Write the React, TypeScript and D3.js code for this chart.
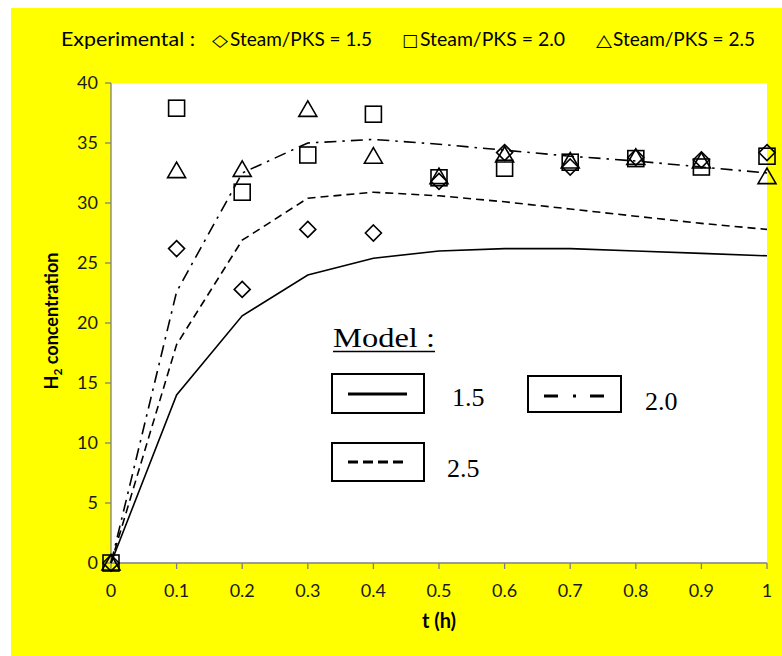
import React from "react";
import * as d3 from "d3";

const tValues = [0, 0.1, 0.2, 0.3, 0.4, 0.5, 0.6, 0.7, 0.8, 0.9, 1.0];
const model15 = [0, 14.0, 20.6, 24.0, 25.4, 26.0, 26.2, 26.2, 26.0, 25.8, 25.6];
const model20 = [0, 22.6, 32.5, 35.0, 35.3, 34.9, 34.4, 33.9, 33.5, 33.0, 32.5];
const model25 = [0, 18.2, 26.9, 30.4, 30.9, 30.6, 30.1, 29.5, 28.9, 28.3, 27.8];
const exp15 = [0, 26.2, 22.8, 27.8, 27.5, 31.8, 34.2, 33.0, 33.8, 33.6, 34.2];
const exp20 = [0, 37.9, 30.9, 34.0, 37.4, 32.1, 32.9, 33.4, 33.7, 33.0, 33.9];
const exp25 = [0, 32.7, 32.8, 37.8, 33.9, 32.2, 34.0, 33.5, 33.8, 33.5, 32.2];
const xTicks = [0, 0.1, 0.2, 0.3, 0.4, 0.5, 0.6, 0.7, 0.8, 0.9, 1];
const yTicks = [0, 5, 10, 15, 20, 25, 30, 35, 40];

const W = 782;
const H = 656;
const FONT = "Lato, 'Open Sans', sans-serif";
const SERIF = "'Liberation Serif', 'DejaVu Serif', serif";

export default function App() {
  const x = d3.scaleLinear().domain([0, 1]).range([111, 767]);
  const y = d3.scaleLinear().domain([0, 40]).range([563, 83]);
  const line = d3
    .line<number>()
    .x((_, i) => x(tValues[i]))
    .y((d) => y(d));

  const sq = (cx: number, cy: number, k: string) => (
    <rect key={k} x={cx - 8} y={cy - 8} width={16} height={16} fill="none" stroke="#000" strokeWidth={1.6} />
  );
  const tri = (cx: number, cy: number, k: string) => (
    <path key={k} d={`M${cx},${cy - 8.5}L${cx + 9},${cy + 7}L${cx - 9},${cy + 7}Z`} fill="none" stroke="#000" strokeWidth={1.6} />
  );
  const dia = (cx: number, cy: number, k: string) => (
    <path key={k} d={`M${cx},${cy - 8}L${cx + 8},${cy}L${cx},${cy + 8}L${cx - 8},${cy}Z`} fill="none" stroke="#000" strokeWidth={1.6} />
  );

  return (
    <svg width={W} height={H} style={{ position: "absolute", left: 0, top: 0 }}>
      <rect x={0} y={0} width={W} height={H} fill="#fff" />
      <rect x={11} y={8} width={W - 11} height={H - 8} fill="#ffff00" />
      <rect x={x(0)} y={y(40)} width={x(1) - x(0)} height={y(0) - y(40)} fill="#fff" />

      {/* top legend */}
      <g fontFamily={FONT} fontSize={20} fill="#000">
        <text x={61} y={46} textLength={134} lengthAdjust="spacingAndGlyphs">Experimental :</text>
        <text x={212} y={46} fontFamily="'DejaVu Sans'" fontSize={17} textLength={16} lengthAdjust="spacingAndGlyphs">◇</text>
        <text x={230} y={46} textLength={142} lengthAdjust="spacingAndGlyphs">Steam/PKS = 1.5</text>
        <text x={402} y={46} fontFamily="'DejaVu Sans'" fontSize={17} textLength={16} lengthAdjust="spacingAndGlyphs">□</text>
        <text x={420} y={46} textLength={145} lengthAdjust="spacingAndGlyphs">Steam/PKS = 2.0</text>
        <text x={596} y={46} fontFamily="'DejaVu Sans'" fontSize={17} textLength={16} lengthAdjust="spacingAndGlyphs">△</text>
        <text x={613} y={46} textLength={142} lengthAdjust="spacingAndGlyphs">Steam/PKS = 2.5</text>
      </g>

      {/* axes */}
      <g stroke="#7f7f7f" strokeWidth={1.3}>
        <line x1={x(0)} x2={x(0)} y1={y(40)} y2={y(0)} />
        <line x1={x(0)} x2={x(1)} y1={y(0)} y2={y(0)} />
        {yTicks.map((t) => (
          <line key={"yt" + t} x1={x(0) - 6} x2={x(0)} y1={y(t)} y2={y(t)} />
        ))}
        {xTicks.map((t) => (
          <line key={"xt" + t} x1={x(t)} x2={x(t)} y1={y(0)} y2={y(0) + 6} />
        ))}
      </g>
      <g fontFamily={FONT} fontSize={18} fill="#1a1a1a">
        {yTicks.map((t) => (
          <text key={"yl" + t} x={x(0) - 13} y={y(t)} dy="0.36em" textAnchor="end">{t}</text>
        ))}
        {xTicks.map((t) => (
          <text key={"xl" + t} x={x(t)} y={597} textAnchor="middle">{String(t)}</text>
        ))}
      </g>
      <text x={439} y={628} textAnchor="middle" fontFamily={FONT} fontWeight="bold" fontSize={20}>t (h)</text>
      <text transform="translate(58,321) rotate(-90)" textAnchor="middle" fontFamily={FONT} fontWeight="bold" fontSize={18}>
        H<tspan fontSize={12} dy={4}>2</tspan><tspan dy={-4}>{"  concentration"}</tspan>
      </text>

      {/* model lines */}
      <path d={line(model15) || ""} fill="none" stroke="#000" strokeWidth={1.6} />
      <path d={line(model25) || ""} fill="none" stroke="#000" strokeWidth={1.6} strokeDasharray="8,5" />
      <path d={line(model20) || ""} fill="none" stroke="#000" strokeWidth={1.6} strokeDasharray="12,6,2.5,6" />

      {/* experimental markers */}
      {exp15.map((v, i) => dia(x(tValues[i]), y(v), "d" + i))}
      {exp20.map((v, i) => sq(x(tValues[i]), y(v), "s" + i))}
      {exp25.map((v, i) => tri(x(tValues[i]), y(v), "t" + i))}

      {/* model legend */}
      <g fontFamily={SERIF} fill="#000">
        <text x={333} y={347} fontSize={27} textLength={102} lengthAdjust="spacingAndGlyphs">Model :</text>
        <line x1={333} x2={435} y1={351.5} y2={351.5} stroke="#000" strokeWidth={1.5} />
        <rect x={332} y={374} width={92} height={39} fill="#fff" stroke="#000" strokeWidth={2} />
        <line x1={348} x2={407} y1={394} y2={394} stroke="#000" strokeWidth={3.2} />
        <text x={452} y={406} fontSize={26}>1.5</text>
        <rect x={528} y={376} width={93} height={36} fill="#fff" stroke="#000" strokeWidth={2} />
        <line x1={544} x2={604} y1={396} y2={396} stroke="#000" strokeWidth={3.2} strokeDasharray="14,15,3,14" />
        <text x={645} y={410} fontSize={26}>2.0</text>
        <rect x={332} y={443} width={92} height={38} fill="#fff" stroke="#000" strokeWidth={2} />
        <line x1={348} x2={404} y1={462} y2={462} stroke="#000" strokeWidth={3.2} strokeDasharray="10,5" />
        <text x={447} y={477} fontSize={26}>2.5</text>
      </g>
    </svg>
  );
}
